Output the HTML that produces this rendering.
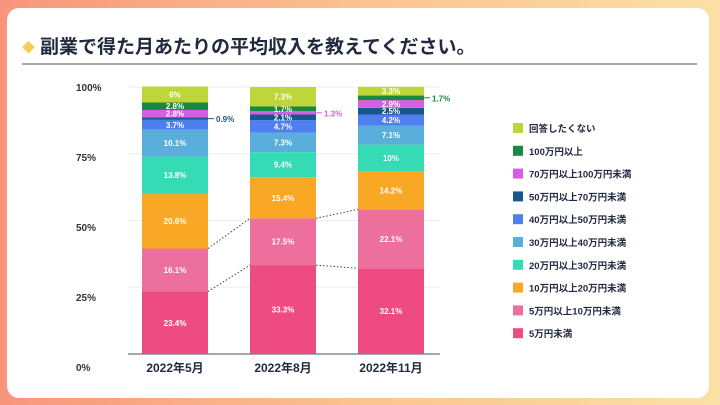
<!DOCTYPE html>
<html><head><meta charset="utf-8"><style>
body{margin:0;width:720px;height:405px;overflow:hidden;font-family:"Liberation Sans","Noto Sans CJK JP",sans-serif;background:linear-gradient(90deg,#f7957c,#fbc38f 50%,#fbe0a5);}
#card{position:absolute;left:7px;top:8px;width:702px;height:390px;background:#fff;border-radius:12px;}
</style></head><body>
<div id="card"></div>
<svg id="chart" width="720" height="405" style="position:absolute;left:0;top:0">
<text x="22" y="52" font-size="13" fill="#f2cf55">◆</text>
<text x="40" y="53" font-size="19" font-weight="bold" fill="#222a3f">副業で得た月あたりの平均収入を教えてください。</text>
<line x1="22" y1="64" x2="697" y2="64" stroke="#6d7080" stroke-width="1.2"/>
<g id="g"></g>
</svg>
<script>
const categories=["2022年5月","2022年8月","2022年11月"];
const seriesNames=["5万円未満","5万円以上10万円未満","10万円以上20万円未満","20万円以上30万円未満","30万円以上40万円未満","40万円以上50万円未満","50万円以上70万円未満","70万円以上100万円未満","100万円以上","回答したくない"];
const seriesColors=["#ee4b82","#ec6f9c","#f9a825","#35dbb5","#5aaedc","#4e7ff0","#19568c","#d55fe0","#178a3e","#bfd63a"];
const may=[23.4,16.1,20.6,13.8,10.1,3.7,0.9,2.8,2.8,6];
const aug=[33.3,17.5,15.4,9.4,7.3,4.7,2.1,1.3,1.7,7.3];
const nov=[32.1,22.1,14.2,10,7.1,4.2,2.5,2.9,1.7,3.3];
const outsideLabels=["0-6","1-7","2-8"];
const yTicks=[0,25,50,75,100];
const values=[may,aug,nov];
const NS="http://www.w3.org/2000/svg",g=document.getElementById('g');
const y=v=>354-v*2.67;
const ly=v=>371-v*2.8;
const xc=i=>175+i*108;
const bw=66;
function mk(t,a){const e=document.createElementNS(NS,t);for(const k in a)e.setAttribute(k,a[k]);g.appendChild(e);return e;}
yTicks.forEach(v=>{
 const l=mk('line',{x1:128,x2:440,y1:y(v),y2:y(v),stroke:v?'#eceef2':'#6d7080','stroke-width':v?1:1.2});
 
 
 const t=mk('text',{x:76,y:ly(v),'font-size':10,'font-weight':'bold',fill:'#333'});t.textContent=v+'%';
 
 
});
for(let i=0;i<2;i++){for(let s=1;s<=2;s++){
 const a=values[i].slice(0,s).reduce((p,c)=>p+c,0),b=values[i+1].slice(0,s).reduce((p,c)=>p+c,0);
 const l=mk('line',{x1:xc(i)+bw/2,y1:y(a),x2:xc(i+1)-bw/2,y2:y(b),stroke:'#444','stroke-dasharray':'1.5,2','stroke-width':1});
 
 
}}
values.forEach((vals,i)=>{
 let cum=0;
 vals.forEach((v,s)=>{
  const y0=y(cum+v),h=v*2.67;
  const r=mk('rect',{x:xc(i)-bw/2,y:y0,width:bw,height:h,fill:seriesColors[s]});
  
  
  let t;
  if(outsideLabels.includes(i+'-'+s)){
   const ym=y0+h/2;
   mk('line',{x1:xc(i)+bw/2,x2:xc(i)+bw/2+6,y1:ym,y2:ym,stroke:seriesColors[s]});
   t=mk('text',{x:xc(i)+bw/2+8,y:ym+3.5,'font-size':8,'font-weight':'bold',fill:seriesColors[s]});
  } else {
   t=mk('text',{x:xc(i),y:y0+h/2+3,'font-size':8,'font-weight':'bold',fill:'#fff','text-anchor':'middle'});
  }
  t.textContent=v+'%';
  
  
  cum+=v;
 });
 const c=mk('text',{x:xc(i),y:372,'font-size':12,'font-weight':'bold',fill:'#222a3f','text-anchor':'middle'});c.textContent=categories[i];
 
 
});
for(let k=0;k<seriesNames.length;k++){
 const s=seriesNames.length-1-k,yy=123+k*22.8;
 const r=mk('rect',{x:513,y:yy,width:10,height:10,fill:seriesColors[s]});
 
 
 const t=mk('text',{x:529,y:yy+9,'font-size':9.5,'font-weight':'bold',fill:'#222a3f'});t.textContent=seriesNames[s];
 
 
}
</script>
</body></html>
